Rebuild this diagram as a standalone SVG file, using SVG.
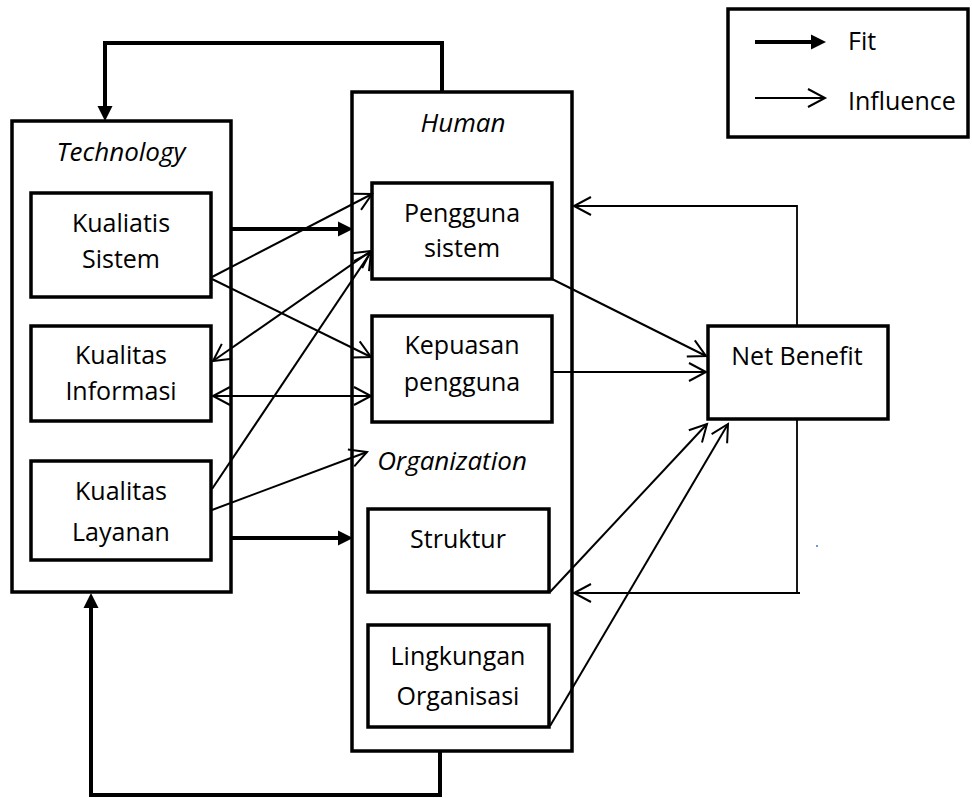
<svg xmlns="http://www.w3.org/2000/svg" width="972" height="798" viewBox="0 0 972 798">
<defs>
<marker id="open" markerUnits="userSpaceOnUse" markerWidth="40" markerHeight="40" viewBox="-20 -20 40 40" refX="0" refY="0" orient="auto-start-reverse" overflow="visible">
<path d="M-17,-9 L0,0 L-17,9" fill="none" stroke="#000" stroke-width="2"/>
</marker>
<marker id="solid" markerUnits="userSpaceOnUse" markerWidth="40" markerHeight="40" viewBox="-20 -20 40 40" refX="0" refY="0" orient="auto" overflow="visible">
<path d="M0,-7.5 L15,0 L0,7.5 z" fill="#000"/>
</marker>
</defs>
<style>
.box{fill:#fff;stroke:#000;stroke-width:3.5}
.t{font-family:"Open Sans","Noto Sans",sans-serif;font-size:25px;fill:#000;text-anchor:middle}
.i{font-style:italic;font-size:26px}
.fit{fill:none;stroke:#000;stroke-width:4}
.inf{fill:none;stroke:#000;stroke-width:2}
.fb{fill:none;stroke:#000;stroke-width:1.8}
</style>
<rect width="972" height="798" fill="#fff"/>

<g id="legend">
<rect x="728" y="9" width="240" height="128" class="box"/>
<line x1="755" y1="42" x2="811" y2="42" class="fit" marker-end="url(#solid)"/>
<line x1="755" y1="98" x2="825" y2="98" class="inf" marker-end="url(#open)"/>
<text x="848" y="50" class="t" style="text-anchor:start">Fit</text>
<text x="848" y="110" class="t" style="text-anchor:start">Influence</text>
</g>

<g id="technology">
<rect x="12" y="121" width="219" height="471" class="box"/>
<text x="121" y="161" class="t i">Technology</text>
</g>
<g id="kualiatis-sistem">
<rect x="31" y="193" width="180" height="104" class="box"/>
<text x="121" y="232" class="t">Kualiatis</text>
<text x="121" y="268" class="t">Sistem</text>
</g>
<g id="kualitas-informasi">
<rect x="31" y="326" width="180" height="95" class="box"/>
<text x="121" y="364" class="t">Kualitas</text>
<text x="121" y="400" class="t">Informasi</text>
</g>
<g id="kualitas-layanan">
<rect x="31" y="461" width="180" height="99" class="box"/>
<text x="121" y="500" class="t">Kualitas</text>
<text x="121" y="541" class="t">Layanan</text>
</g>

<g id="human">
<rect x="352" y="92" width="220" height="659" class="box"/>
<text x="463" y="132" class="t i">Human</text>
<text x="452" y="470" class="t i">Organization</text>
</g>
<g id="pengguna-sistem">
<rect x="372" y="183" width="180" height="96" class="box"/>
<text x="462" y="222" class="t">Pengguna</text>
<text x="462" y="257" class="t">sistem</text>
</g>
<g id="kepuasan-pengguna">
<rect x="372" y="316" width="180" height="106" class="box"/>
<text x="462" y="354" class="t">Kepuasan</text>
<text x="462" y="391" class="t">pengguna</text>
</g>
<g id="struktur">
<rect x="368" y="509" width="181" height="83" class="box"/>
<text x="458" y="548" class="t">Struktur</text>
</g>
<g id="lingkungan-organisasi">
<rect x="368" y="625" width="181" height="102" class="box"/>
<text x="458" y="665" class="t">Lingkungan</text>
<text x="458" y="705" class="t">Organisasi</text>
</g>

<g id="connectors">
<polyline points="442,92 442,43 105,43 105,106" class="fit" marker-end="url(#solid)"/>
<polyline points="440,751 440,795 91,795 91,608" class="fit" marker-end="url(#solid)"/>
<line x1="231" y1="229" x2="338" y2="229" class="fit" marker-end="url(#solid)"/>
<line x1="231" y1="538" x2="338" y2="538" class="fit" marker-end="url(#solid)"/>
<line x1="212" y1="277" x2="372" y2="194" class="inf" marker-end="url(#open)"/>
<line x1="212" y1="279" x2="371" y2="357" class="inf" marker-end="url(#open)"/>
<line x1="213" y1="361" x2="371" y2="251" class="inf" marker-start="url(#open)" marker-end="url(#open)"/>
<line x1="213" y1="396" x2="371" y2="396" class="inf" marker-start="url(#open)" marker-end="url(#open)"/>
<line x1="212" y1="489" x2="371" y2="252" class="inf" marker-end="url(#open)"/>
<line x1="212" y1="510" x2="367" y2="452" class="inf" marker-end="url(#open)"/>
<line x1="552" y1="279" x2="706" y2="356" class="inf" marker-end="url(#open)"/>
<line x1="552" y1="372" x2="706" y2="372" class="inf" marker-end="url(#open)"/>
<line x1="550" y1="592" x2="707" y2="424" class="inf" marker-end="url(#open)"/>
<line x1="550" y1="726" x2="728" y2="424" class="inf" marker-end="url(#open)"/>
<polyline points="797,593 797,206 574,206" class="fb" marker-end="url(#open)"/>
<line x1="800" y1="593" x2="574" y2="593" class="fb" marker-end="url(#open)"/>
</g>

<g id="net-benefit">
<rect x="708" y="326" width="180" height="93" class="box"/>
<text x="797" y="365" class="t">Net Benefit</text>
</g>
<circle cx="817" cy="546" r="1" fill="#4472c4"/>
</svg>
